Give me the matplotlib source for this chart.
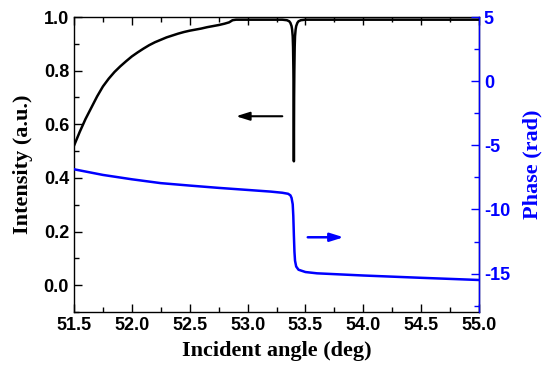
import matplotlib
matplotlib.use("Agg")
import matplotlib.pyplot as plt
from matplotlib.ticker import MultipleLocator, FormatStrFormatter
from matplotlib.font_manager import FontProperties

plt.rcParams["axes.unicode_minus"] = False

# Intensity (left axis)
angle_int = [51.50, 51.55, 51.60, 51.65, 51.70, 51.75, 51.80, 51.85, 51.90, 51.95,
             52.00, 52.05, 52.10, 52.15, 52.20, 52.25, 52.30, 52.35, 52.40, 52.45,
             52.50, 52.55, 52.60, 52.65, 52.70, 52.75, 52.80, 52.84, 52.87, 52.90,
             53.00, 53.30, 53.34, 53.36, 53.37, 53.38, 53.385, 53.39, 53.393,
             53.396, 53.398, 53.400, 53.402, 53.404, 53.407, 53.41, 53.415, 53.42,
             53.43, 53.44, 53.46, 53.50, 54.00, 54.50, 55.00]
intensity = [0.520, 0.572, 0.620, 0.662, 0.704, 0.741, 0.770, 0.795, 0.816, 0.835,
             0.853, 0.868, 0.882, 0.895, 0.906, 0.915, 0.924, 0.931, 0.938, 0.944,
             0.949, 0.953, 0.957, 0.962, 0.966, 0.970, 0.975, 0.980, 0.988, 0.990,
             0.990, 0.990, 0.988, 0.984, 0.978, 0.966, 0.953, 0.928, 0.888,
             0.800, 0.700, 0.462, 0.700, 0.800, 0.888, 0.928, 0.953, 0.966,
             0.978, 0.984, 0.988, 0.990, 0.990, 0.990, 0.990]

# Phase (right axis)
angle_ph = [51.50, 51.75, 52.00, 52.25, 52.50, 52.75, 53.00, 53.20, 53.30, 53.35,
            53.37, 53.38, 53.39, 53.395, 53.40, 53.405, 53.41, 53.42, 53.44, 53.50,
            53.60, 54.00, 54.50, 55.00]
phase = [-6.87, -7.31, -7.65, -7.95, -8.14, -8.32, -8.48, -8.61, -8.70, -8.78,
         -8.90, -9.10, -9.60, -10.5, -12.0, -13.3, -14.0, -14.45, -14.70, -14.88,
         -14.98, -15.15, -15.33, -15.50]

BLUE = "#0000ff"
tick_fp = FontProperties(family="Liberation Sans", weight="bold", size=13)
label_font = dict(family="Liberation Serif", weight="bold", size=16)

fig = plt.figure(figsize=(5.5, 3.68), dpi=100)
ax1 = fig.add_axes([0.1345, 0.152, 0.7365, 0.8018])
ax2 = ax1.twinx()

ax1.plot(angle_int, intensity, color="black", lw=1.8)
ax2.plot(angle_ph, phase, color=BLUE, lw=1.8)

ax1.set_xlim(51.5, 55.0)
ax1.set_ylim(-0.1, 1.0)
ax2.set_ylim(-18, 5)

ax1.xaxis.set_major_locator(MultipleLocator(0.5))
ax1.xaxis.set_minor_locator(MultipleLocator(0.25))
ax1.yaxis.set_major_locator(MultipleLocator(0.2))
ax1.yaxis.set_minor_locator(MultipleLocator(0.1))
ax2.yaxis.set_major_locator(MultipleLocator(5))
ax2.yaxis.set_minor_locator(MultipleLocator(2.5))
ax1.yaxis.set_major_formatter(FormatStrFormatter("%.1f"))
ax1.xaxis.set_major_formatter(FormatStrFormatter("%.1f"))

ax1.tick_params(axis="both", which="both", direction="in", top=True, right=False)
ax1.tick_params(which="major", length=6, width=1)
ax1.tick_params(which="minor", length=3.5, width=1)
ax2.tick_params(axis="y", which="both", direction="in", colors=BLUE)
ax2.tick_params(which="major", length=6, width=1)
ax2.tick_params(which="minor", length=3.5, width=1)

for lab in ax1.get_xticklabels() + ax1.get_yticklabels():
    lab.set_fontproperties(tick_fp)
for lab in ax2.get_yticklabels():
    lab.set_fontproperties(tick_fp)
    lab.set_color(BLUE)

for sp in ax1.spines.values():
    sp.set_linewidth(1)
ax2.spines["right"].set_color(BLUE)
ax2.spines["right"].set_linewidth(1)
for s in ["left", "top", "bottom"]:
    ax2.spines[s].set_visible(False)

ax1.set_xlabel("Incident angle (deg)", **label_font, labelpad=5)
ax1.set_ylabel("Intensity (a.u.)", **label_font, labelpad=8)
ax2.set_ylabel("Phase (rad)", color=BLUE, **label_font, labelpad=9)

# Arrows
ax1.annotate("", xy=(52.90, 0.630), xytext=(53.30, 0.630),
             arrowprops=dict(arrowstyle="-|>,head_length=0.8,head_width=0.25",
                             color="black", lw=1.5, shrinkA=0, shrinkB=0))
ax2.annotate("", xy=(53.83, -12.17), xytext=(53.52, -12.17),
             arrowprops=dict(arrowstyle="-|>,head_length=0.8,head_width=0.25",
                             color=BLUE, lw=1.8, shrinkA=0, shrinkB=0))

fig.savefig("out.png", dpi=100)
